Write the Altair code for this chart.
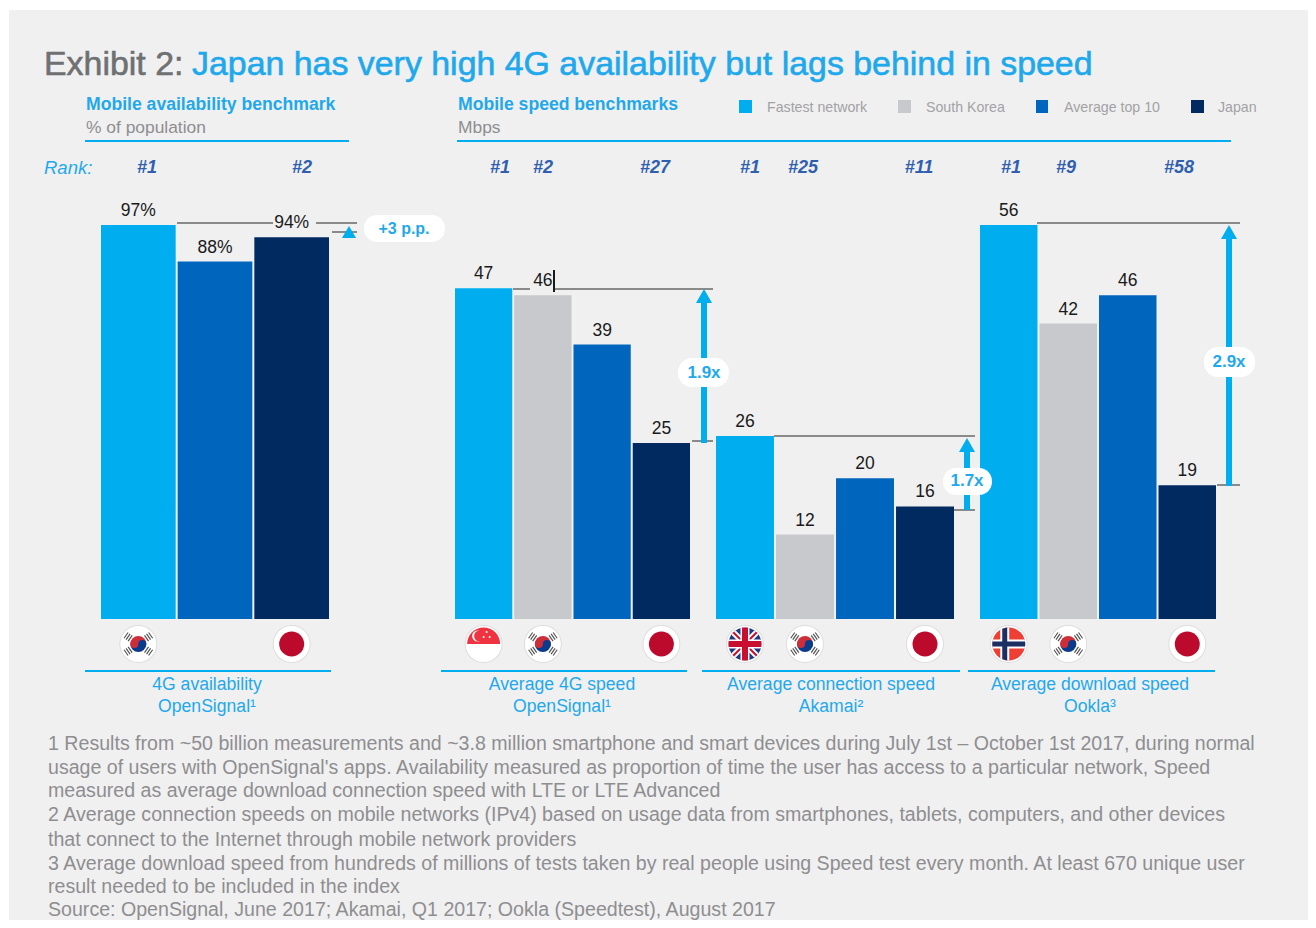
import base64
import altair as alt
import pandas as pd

# ---------- data ----------
SERIES = ["Fastest network", "South Korea", "Average top 10", "Japan"]
SERIES_COLORS = ["#00AEEF", "#C8C9CC", "#0066BD", "#002A60"]

avail_series = ["Fastest network", "Average top 10", "Japan"]
avail_values = [97, 88, 94]
avail_labels = ["97%", "88%", "94%"]
avail_flags = ["kr", None, "jp"]

lte_values = [47, 46, 39, 25]
lte_flags = ["sg", "kr", None, "jp"]
conn_values = [26, 12, 20, 16]
conn_flags = ["uk", "kr", None, "jp"]
dl_values = [56, 42, 46, 19]
dl_flags = ["no", "kr", None, "jp"]

TITLE_GREY = "Exhibit 2:"
TITLE_BLUE = "Japan has very high 4G availability but lags behind in speed"

FOOTNOTES = [
    "1 Results from ~50 billion measurements and ~3.8 million smartphone and smart devices during July 1st – October 1st 2017, during normal",
    "usage of users with OpenSignal's apps. Availability measured as proportion of time the user has access to a particular network, Speed",
    "measured as average download connection speed with LTE or LTE Advanced",
    "2 Average connection speeds on mobile networks (IPv4) based on usage data from smartphones, tablets, computers, and other devices",
    "that connect to the Internet through mobile network providers",
    "3 Average download speed from hundreds of millions of tests taken by real people using Speed test every month. At least 670 unique user",
    "result needed to be included in the index",
    "Source: OpenSignal, June 2017; Akamai, Q1 2017; Ookla (Speedtest), August 2017",
]

# ---------- style ----------
FONT = "Liberation Sans"
BLUE = "#00AEEF"
TXT_BLUE = "#1FA9EC"
GREY_TXT = "#8E8E90"
LINE_GREY = "#8A8A8A"
RANK = "#2F5FAE"
BG = "#F0F0F1"


def one(t=""):
    return alt.InlineData(values=[{"t": t}])


def txt(t, x, y, size=16, color="#000", align="left", bold=False, italic=False, stroke=None):
    kw = dict(font=FONT, fontSize=size, color=color, align=align, baseline="middle")
    if bold:
        kw["fontWeight"] = "bold"
    if italic:
        kw["fontStyle"] = "italic"
    if stroke:
        kw["stroke"] = color
        kw["strokeWidth"] = stroke
    return alt.Chart(one(t)).mark_text(**kw).encode(
        x=alt.value(x - 8), y=alt.value(y - 7), text="t:N"
    )


def rule(x1, x2, y1, y2, color=LINE_GREY, w=2):
    return alt.Chart(one()).mark_rule(color=color, strokeWidth=w).encode(
        x=alt.value(x1 - 8), x2=alt.value(x2 - 8), y=alt.value(y1 - 8), y2=alt.value(y2 - 8)
    )


def box(x1, x2, y1, y2, color, radius=0):
    return alt.Chart(one()).mark_rect(color=color, cornerRadius=radius).encode(
        x=alt.value(x1 - 8), x2=alt.value(x2 - 8), y=alt.value(y1 - 8), y2=alt.value(y2 - 8)
    )


def head(x, y, size=256):
    return alt.Chart(one()).mark_point(
        shape="triangle-up", size=size, filled=True, color=BLUE, opacity=1
    ).encode(x=alt.value(x - 8), y=alt.value(y - 8))


# ---------- flags ----------
def flag_uri(body):
    svg = (
        '<svg xmlns="http://www.w3.org/2000/svg" width="40" height="40" viewBox="-20 -20 40 40">'
        '<defs><clipPath id="c"><circle r="16.5"/></clipPath></defs>'
        '<circle r="19" fill="#DDDDDE"/><circle r="18" fill="#FFFFFF"/>' + body + "</svg>"
    )
    return "data:image/svg+xml;base64," + base64.b64encode(svg.encode()).decode()


def trigram(angle):
    return (
        f'<g transform="rotate({angle}) translate(0,-13)" stroke="#555" stroke-width="1.2">'
        '<path d="M-3.5 -2H3.5M-3.5 0.5H3.5M-3.5 3H3.5"/></g>'
    )


FLAGS = {
    "jp": flag_uri('<circle r="12.5" fill="#BC0A2D"/>'),
    "kr": flag_uri(
        '<path d="M-8 0A8 8 0 0 1 8 0Z" fill="#CD2E3A"/><path d="M-8 0A8 8 0 0 0 8 0Z" fill="#0B3C8C"/>'
        '<circle cx="-4" r="4" fill="#CD2E3A"/><circle cx="4" r="4" fill="#0B3C8C"/>'
        + "".join(trigram(a) for a in (55, 125, 235, 305))
    ),
    "sg": flag_uri(
        '<g clip-path="url(#c)"><rect x="-18" y="-18" width="36" height="18" fill="#EF3340"/>'
        '<circle cx="-6" cy="-8" r="5.5" fill="#FFF"/><circle cx="-4" cy="-8" r="5.5" fill="#EF3340"/>'
        '<circle cx="3" cy="-12" r="1" fill="#FFF"/><circle cx="6" cy="-7" r="1" fill="#FFF"/>'
        '<circle cx="0" cy="-7" r="1" fill="#FFF"/></g>'
    ),
    "uk": flag_uri(
        '<g clip-path="url(#c)"><rect x="-18" y="-18" width="36" height="36" fill="#23397F"/>'
        '<path d="M-18 -18L18 18M18 -18L-18 18" stroke="#FFF" stroke-width="6"/>'
        '<path d="M-18 -18L18 18M18 -18L-18 18" stroke="#C8102E" stroke-width="2"/>'
        '<path d="M0 -18V18M-18 0H18" stroke="#FFF" stroke-width="9"/>'
        '<path d="M0 -18V18M-18 0H18" stroke="#C8102E" stroke-width="6"/></g>'
    ),
    "no": flag_uri(
        '<g clip-path="url(#c)"><rect x="-18" y="-18" width="36" height="36" fill="#EF3E33"/>'
        '<path d="M-4 -18V18M-18 0H18" stroke="#FFF" stroke-width="9"/>'
        '<path d="M-4 -18V18M-18 0H18" stroke="#1B2F63" stroke-width="5"/></g>'
    ),
}


# ---------- panels ----------
def panel(series, values, labels, flags, x_range, y_max, inner):
    df = pd.DataFrame({"series": series, "value": values, "label": labels})
    x = alt.X(
        "series:N", sort=series, axis=None,
        scale=alt.Scale(domain=series, range=x_range, paddingInner=inner, paddingOuter=0),
    )
    y = alt.Y("value:Q", axis=None, scale=alt.Scale(domain=[0, y_max], range=[611, 217], nice=False))
    color = alt.Color("series:N", legend=None, scale=alt.Scale(domain=SERIES, range=SERIES_COLORS))
    bars = alt.Chart(df).mark_bar().encode(x=x, y=y, color=color)
    text = alt.Chart(df).mark_text(
        font=FONT, fontSize=17.5, color="#1A1A1A", baseline="bottom", dy=-5
    ).encode(x=x, y=y, text="label:N")
    fdf = pd.DataFrame(
        [{"series": s, "url": FLAGS[f]} for s, f in zip(series, flags) if f]
    )
    pics = alt.Chart(fdf).mark_image(width=40, height=40).encode(
        x=x, y=alt.value(636), url="url:N"
    )
    return alt.layer(bars, text, pics)


panels = [
    panel(avail_series, avail_values, avail_labels, avail_flags, [93, 321], 97, 0.026),
    panel(SERIES, lte_values, [str(v) for v in lte_values], lte_flags, [447, 682], 56, 0.034),
    panel(SERIES, conn_values, [str(v) for v in conn_values], conn_flags, [708, 946], 56, 0.034),
    panel(SERIES, dl_values, [str(v) for v in dl_values], dl_flags, [972, 1208], 56, 0.034),
]
chart_panels = alt.layer(*panels).resolve_scale(x="independent", y="independent")

# ---------- chrome ----------
back = [box(9, 1308, 10, 920, BG)]

front = [
    txt(TITLE_GREY, 44, 64, 33.9, "#6F7072", stroke=0.6),
    txt(TITLE_BLUE, 192, 64, 33.9, TXT_BLUE, stroke=0.6),
    txt("Mobile availability benchmark", 86, 104, 17.6, TXT_BLUE, bold=True),
    txt("% of population", 86, 127, 17.4, GREY_TXT),
    txt("Mobile speed benchmarks", 458, 104, 17.6, TXT_BLUE, bold=True),
    txt("Mbps", 458, 127, 17.4, GREY_TXT),
    rule(85, 349, 141, 141, BLUE),
    rule(457, 1231, 141, 141, BLUE),
    txt("Rank:", 44, 167, 18.5, TXT_BLUE, italic=True),
]

# legend
for name, col, x1, x2, tx in zip(
    SERIES, SERIES_COLORS, [739, 898, 1036, 1191], [752, 911, 1048, 1204], [767, 926, 1064, 1218]
):
    front.append(box(x1, x2, 100, 113, col))
    front.append(txt(name, tx, 107, 14.2, "#A2A2A4"))

# ranks
for r, x in zip(
    ["#1", "#2", "#1", "#2", "#27", "#1", "#25", "#11", "#1", "#9", "#58"],
    [147, 302, 500, 543, 655, 750, 803, 919, 1011, 1066, 1179],
):
    front.append(txt(r, x, 167, 18, RANK, align="center", bold=True, italic=True))

# reference lines and arrows
front += [
    rule(177, 273, 223, 223), rule(316, 357, 223, 223), rule(332, 357, 232, 232),
    head(349, 232, 200),
    box(364, 445, 215, 242, "#FFFFFF", 13),
    txt("+3 p.p.", 404, 228, 16, TXT_BLUE, "center", bold=True),

    rule(513, 530, 289, 289), rule(553, 713, 289, 289), rule(692, 713, 441, 441),
    rule(554, 554, 270, 292, "#1A1A1A", 2),
    rule(704, 704, 300, 443, BLUE, 6), head(704, 296),
    box(678, 729, 358, 387, "#FFFFFF", 14),
    txt("1.9x", 704, 372, 17, TXT_BLUE, "center", bold=True),

    rule(774, 975, 436, 436), rule(954, 975, 510, 510),
    rule(967, 967, 447, 510, BLUE, 6), head(967, 445),
    box(943, 992, 468, 495, "#FFFFFF", 13),
    txt("1.7x", 967, 480, 17, TXT_BLUE, "center", bold=True),

    rule(1037, 1240, 223, 223), rule(1217, 1240, 485, 485),
    rule(1229, 1229, 235, 486, BLUE, 6), head(1229, 232),
    box(1204, 1255, 347, 377, "#FFFFFF", 14),
    txt("2.9x", 1229, 361, 17, TXT_BLUE, "center", bold=True),
]

# group captions
for x1, x2 in [(85, 331), (441, 687), (702, 960), (968, 1215)]:
    front.append(rule(x1, x2, 671, 671, BLUE))
for a, b, x in [
    ("4G availability", "OpenSignal¹", 207),
    ("Average 4G speed", "OpenSignal¹", 562),
    ("Average connection speed", "Akamai²", 831),
    ("Average download speed", "Ookla³", 1090),
]:
    front.append(txt(a, x, 684, 17.6, TXT_BLUE, "center"))
    front.append(txt(b, x, 706, 17.6, TXT_BLUE, "center"))

# footnotes
for line, y in zip(FOOTNOTES, [743, 767, 790, 814, 839, 863, 886, 909]):
    front.append(txt(line, 48, y, 19.6, GREY_TXT))

chart = (
    alt.layer(*back, chart_panels, *front)
    .resolve_scale(x="independent", y="independent")
    .properties(
        width=1300,
        height=912,
        padding=0,
        background="#FFFFFF",
        autosize=alt.AutoSizeParams(type="none", contains="padding"),
    )
    .configure_view(stroke=None)
)

chart.save("out.html", embed_options={"renderer": "svg", "actions": False})
